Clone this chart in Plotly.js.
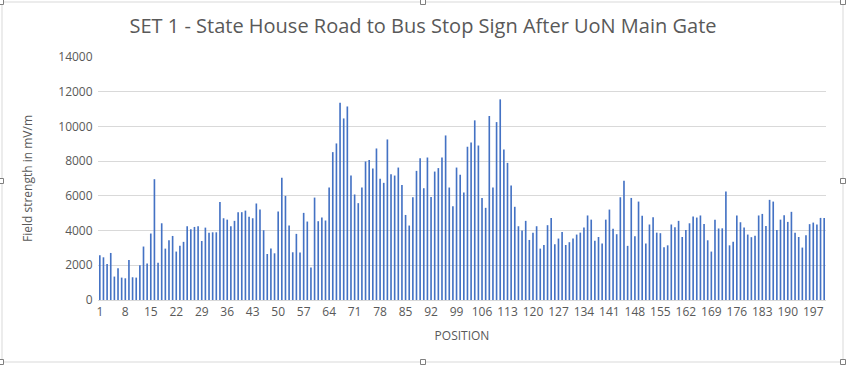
<!DOCTYPE html>
<html>
<head>
<meta charset="utf-8">
<script src="https://cdn.plot.ly/plotly-3.0.1.min.js"></script>
<style>html,body{margin:0;padding:0;background:#fff;}#chart{width:846px;height:366px;}</style>
</head>
<body>
<div id="chart"></div>
<script>
const positions = Array.from({length: 200}, (_, i) => i + 1);
const fieldStrength = [
  2580, 2460, 2080, 2710, 1350, 1830, 1290, 1250, 2310, 1310,
  1290, 2000, 3080, 2100, 3830, 6960, 2150, 4420, 2960, 3440,
  3690, 2790, 3130, 3350, 4250, 4080, 4210, 4250, 3400, 4170,
  3870, 3900, 3900, 5650, 4710, 4630, 4250, 4560, 5060, 5060,
  5150, 4790, 4710, 5560, 5210, 4020, 2650, 2960, 2690, 5100,
  7040, 6000, 4290, 2750, 3810, 2730, 5020, 4520, 1870, 5900,
  4540, 4750, 4580, 6480, 8520, 9020, 11370, 10460, 11150, 7170,
  6080, 5580, 6480, 7980, 8060, 7580, 8730, 6980, 6750, 9250,
  7250, 7170, 7630, 6630, 4900, 4290, 5920, 7440, 8170, 6440,
  8210, 5940, 7400, 7600, 8210, 9480, 6480, 5400, 7630, 7210,
  6190, 8830, 9080, 10350, 8900, 5880, 5310, 10600, 6480, 10250,
  11560, 8670, 7900, 6600, 5370, 4250, 4000, 4560, 3460, 3870,
  4250, 2960, 3170, 4310, 4730, 3210, 3540, 3920, 3170, 3330,
  3540, 3770, 3880, 4170, 4870, 4630, 3420, 3630, 3250, 4630,
  5210, 4100, 3790, 5920, 6870, 3120, 5880, 3670, 5670, 4850,
  3250, 4350, 4770, 3880, 3850, 3040, 3150, 4350, 4190, 4560,
  3630, 4040, 4420, 4810, 4750, 4870, 4380, 3440, 2790, 4630,
  4120, 4130, 6250, 3150, 3350, 4870, 4480, 4170, 3770, 3620,
  3700, 4870, 4960, 4270, 5770, 5670, 4040, 4630, 4880, 4500,
  5080, 3880, 3630, 3020, 3730, 4370, 4460, 4350, 4730, 4730
];
const xTickVals = [1, 8, 15, 22, 29, 36, 43, 50, 57, 64, 71, 78, 85, 92, 99, 106, 113, 120, 127, 134, 141, 148, 155, 162, 169, 176, 183, 190, 197];
const yTickVals = [0, 2000, 4000, 6000, 8000, 10000, 12000, 14000];

const font = "'Open Sans', 'Liberation Sans', sans-serif";
const W = 846, H = 366, L = 98, R = 20, T = 57, B = 66;
const pw = W - L - R, ph = H - T - B;
const px = v => (v - L) / pw;          // pixel x -> paper x
const py = v => (H - B - v) / ph;      // pixel y -> paper y

const trace = {
  type: 'bar',
  x: positions,
  y: fieldStrength,
  marker: {color: '#4472C4', line: {width: 0}},
  hoverinfo: 'x+y'
};

const handles = [[1, 181], [843, 181], [423, 362], [1, 362], [843, 362], [1, 2], [843, 2], [423, 2]].map(([hx, hy]) => ({
  type: 'rect', xref: 'paper', yref: 'paper',
  x0: px(hx - 2.5), x1: px(hx + 2.5), y0: py(hy + 2.5), y1: py(hy - 2.5),
  line: {color: '#7f7f7f', width: 1}, fillcolor: '#ffffff'
}));

const layout = {
  width: W, height: H,
  margin: {l: L, r: R, t: T, b: B},
  paper_bgcolor: '#ffffff', plot_bgcolor: '#ffffff',
  bargap: 0.55,
  showlegend: false,
  font: {family: font, color: '#595959', size: 12},
  title: {text: 'SET 1 - State House Road to Bus Stop Sign After UoN Main Gate',
          font: {family: font, size: 20, color: '#595959'}, x: 0.5, xanchor: 'center', y: 0.93, yanchor: 'middle'},
  xaxis: {
    range: [0.5, 200.5], tickvals: xTickVals, ticktext: xTickVals.map(String),
    showgrid: false, zeroline: false, showline: true, linecolor: '#d9d9d9', linewidth: 1,
    ticks: 'outside', ticklen: 1, tickcolor: 'rgba(0,0,0,0)',
    tickfont: {family: font, size: 12, color: '#595959'},
    title: {text: 'POSITION', font: {family: font, size: 12, color: '#595959'}, standoff: 12}
  },
  yaxis: {
    range: [0, 14000], tickvals: yTickVals, ticktext: yTickVals.map(String),
    showgrid: true, gridcolor: '#d9d9d9', gridwidth: 1, zeroline: false, showline: false,
    ticks: 'outside', ticklen: 2, tickcolor: 'rgba(0,0,0,0)',
    tickfont: {family: font, size: 12, color: '#595959'},
    title: {text: 'Field strength in mV/m', font: {family: font, size: 12, color: '#595959'}, standoff: 23}
  },
  shapes: [
    {type: 'rect', xref: 'paper', yref: 'paper', x0: px(2), x1: px(843), y0: py(362), y1: py(2),
     line: {color: '#d9d9d9', width: 1}, fillcolor: 'rgba(0,0,0,0)', layer: 'below'}
  ].concat(handles)
};
Plotly.newPlot('chart', [trace], layout, {displayModeBar: false, staticPlot: true});
</script>
</body>
</html>
